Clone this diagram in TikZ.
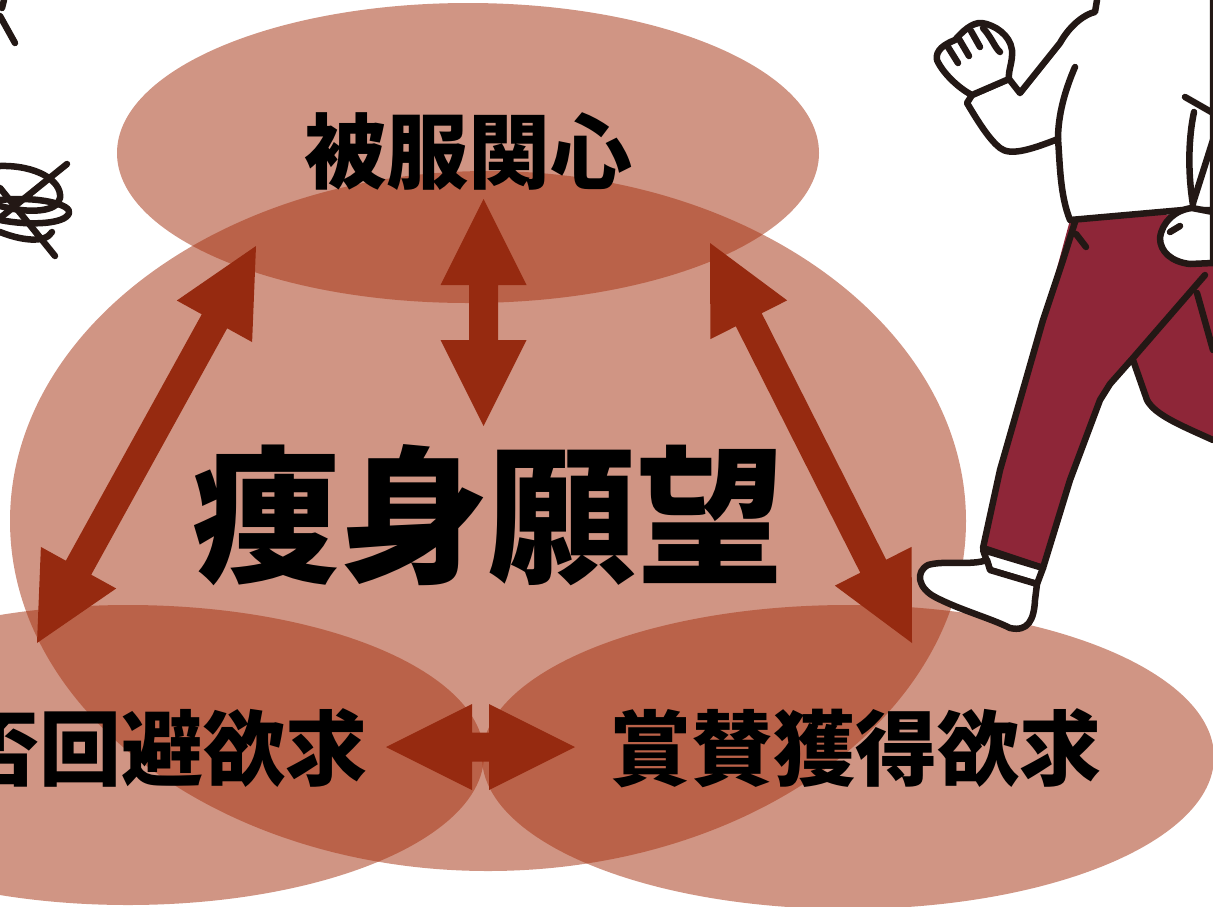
\documentclass[tikz,border=0pt]{standalone}
\usepackage{fontspec}
\usetikzlibrary{calc}
\newfontfamily\jpfont{Noto Sans CJK JP}

\definecolor{blob}{RGB}{167,54,22}
\definecolor{arrowred}{RGB}{150,42,16}
\definecolor{ink}{RGB}{35,24,21}
\definecolor{pants}{RGB}{142,38,56}

\tikzset{
  blobfill/.style={fill=blob, fill opacity=0.53},
  arrowfill/.style={fill=arrowred},
  sublabel/.style={inner sep=0pt, text=black, font=\jpfont\bfseries\fontsize{82pt}{90pt}\selectfont},
  mainlabel/.style={inner sep=0pt, text=black, font=\jpfont\bfseries\fontsize{148pt}{160pt}\selectfont},
  outline/.style={draw=ink, line width=6.5pt, line cap=round, line join=round},
}

% double-headed block arrow between two named coordinates
\newcommand\dblarrow[2]{%
  \coordinate (ba1) at ($(#1)!86pt!(#2)$);
  \coordinate (ba2) at ($(#2)!86pt!(#1)$);
  \fill[arrowfill] (#1)
    -- ($(ba1)!43pt!90:(#2)$) -- ($(ba1)!14.5pt!90:(#2)$)
    -- ($(ba2)!14.5pt!-90:(#1)$) -- ($(ba2)!43pt!-90:(#1)$)
    -- (#2)
    -- ($(ba2)!43pt!90:(#1)$) -- ($(ba2)!14.5pt!90:(#1)$)
    -- ($(ba1)!14.5pt!-90:(#2)$) -- ($(ba1)!43pt!-90:(#2)$)
    -- cycle;%
}

\begin{document}
\begin{tikzpicture}[x=1pt, y=-1pt]
\useasboundingbox (0,0) rectangle (1213,906);
\clip (0,0) rectangle (1213,906);

% translucent overlapping ellipses
\fill[blobfill] (488,521) ellipse [x radius=478, y radius=350];
\fill[blobfill] (468,153) ellipse [x radius=351, y radius=150];
\fill[blobfill] (128,755) ellipse [x radius=356, y radius=150];
\fill[blobfill] (848,757) ellipse [x radius=366, y radius=152];

% arrow end points
\coordinate (vt) at (483.5,199);
\coordinate (vb) at (483.5,426);
\coordinate (lt) at (256,246);
\coordinate (lb) at (37,643);
\coordinate (rt) at (710,243);
\coordinate (rb) at (912,643);
\coordinate (hl) at (386,747);
\coordinate (hr) at (575,747);

\dblarrow{vt}{vb}
\dblarrow{lt}{lb}
\dblarrow{rt}{rb}
\dblarrow{hl}{hr}

% labels
\node[sublabel] (clothing) at (468,152) {被服関心};
\node[mainlabel] (thin) at (488,515) {痩身願望};
\node[sublabel] (avoid) at (122,748) {拒否回避欲求};
\node[sublabel] (praise) at (855,748) {賞賛獲得欲求};

% scribbles at the upper left
\draw[outline] (4,0) -- (2,8);
\draw[outline] (0,16) -- (15,43);
\draw[outline] (67,164) -- (0,218);
\draw[outline] (0,188) -- (55,256);
\draw[outline] (0,166) .. controls (35,165) and (62,180) .. (60,198)
  .. controls (58,212) and (30,214) .. (0,206);
\draw[outline] (0,200) .. controls (40,196) and (72,205) .. (69,213)
  .. controls (66,224) and (30,226) .. (0,220);
\draw[outline] (0,232) .. controls (20,240) and (45,244) .. (52,232);

% runner: pants
\fill[pants] (1070,220) -- (1213,212) -- (1213,440)
  .. controls (1180,425) and (1155,415) .. (1147,400)
  -- (1133,360) -- (1108,385) -- (1100,400)
  -- (1043,568) -- (983,548) -- (1000,470) -- (1043,320) -- cycle;
\draw[outline] (1075,222) -- (1063,260) -- (1043,320) -- (1000,470) -- (983,548)
  -- (1043,568) -- (1070,480) -- (1100,400) -- (1110,384) -- (1133,358) -- (1205,275);
\draw[outline] (1133,360) -- (1147,400) .. controls (1155,415) and (1180,425) .. (1213,440);
\draw[outline] (1197,293) -- (1213,350);
\draw[outline] (1076,234) -- (1086,247);

% runner: sock and shoe
\filldraw[fill=white, outline] (983,550) -- (1043,568) -- (1037,584) -- (990,570) -- cycle;
\filldraw[fill=white, outline] (987,560) .. controls (970,566) and (945,560) .. (928,565)
  .. controls (915,572) and (918,588) .. (935,597)
  .. controls (960,610) and (990,618) .. (1010,628)
  .. controls (1028,632) and (1034,620) .. (1035,600)
  -- (1037,584) -- (990,570) -- cycle;

% runner: shirt and arm
\filldraw[fill=white, outline] (1097,0) -- (1095,12)
  .. controls (1085,14) and (1070,25) .. (1060,43)
  -- (1020,93) -- (1009,79) -- (972,95) -- (967,103)
  .. controls (980,125) and (990,140) .. (1000,148)
  .. controls (1010,156) and (1030,150) .. (1058,139)
  .. controls (1060,165) and (1060,195) .. (1070,220)
  -- (1183,210) -- (1213,210) -- (1213,-10) -- (1097,-10) -- cycle;
\draw[outline] (1075,67) .. controls (1065,90) and (1058,115) .. (1058,139);
% raised fist
\filldraw[fill=white, outline] (972,95)
  .. controls (958,88) and (942,72) .. (937,60)
  .. controls (935,50) and (945,44) .. (955,40)
  .. controls (962,32) and (972,22) .. (982,23)
  .. controls (995,25) and (1010,35) .. (1012,50)
  .. controls (1013,62) and (1008,70) .. (1009,79) -- cycle;
\draw[outline] (948,47) -- (958,63);
\draw[outline] (959,39) -- (969,56);
\draw[outline] (971,31) -- (980,47);
\draw[outline] (983,28) .. controls (992,38) and (995,48) .. (1000,52);
% other arm and hand
\draw[outline] (1185,97) -- (1213,113);
\draw[outline] (1194,112) .. controls (1188,140) and (1188,175) .. (1193,205);
\draw[outline] (1193,203) -- (1213,140);
\filldraw[fill=white, outline] (1213,212) -- (1192,208)
  .. controls (1175,210) and (1162,222) .. (1160,238)
  .. controls (1160,252) and (1172,262) .. (1190,264)
  -- (1213,263) -- cycle;
\draw[outline] (1170,232) -- (1180,226);
\end{tikzpicture}
\end{document}
